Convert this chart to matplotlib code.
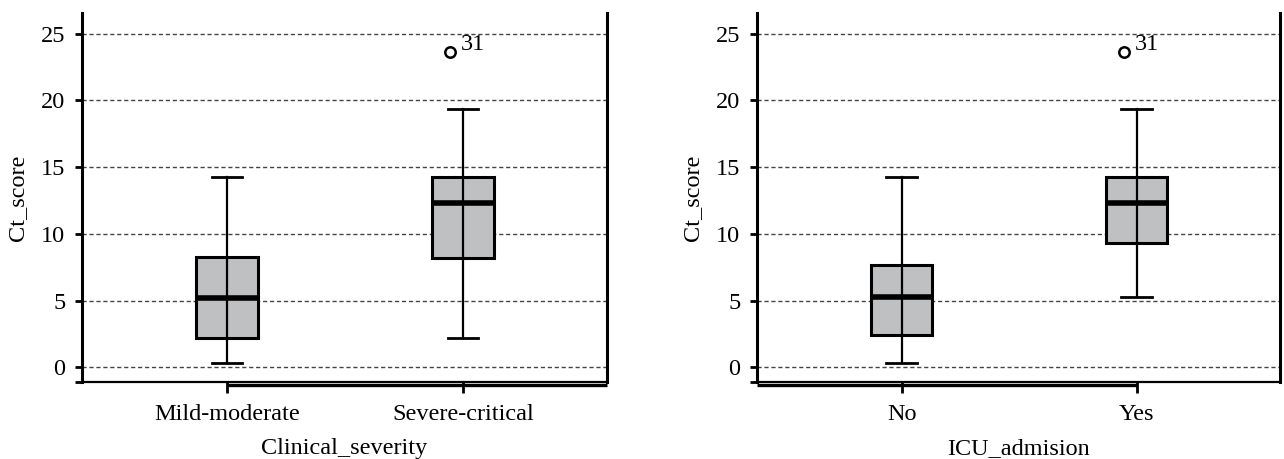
import matplotlib
matplotlib.use("Agg")
import matplotlib.pyplot as plt
import matplotlib.transforms as mtransforms

plt.rcParams["font.family"] = ["Liberation Serif", "DejaVu Serif"]

# data
severity_labels = ["Mild-moderate", "Severe-critical"]
severity_whislo = [0.3, 2.2]
severity_q1 = [2.2, 8.2]
severity_med = [5.2, 12.3]
severity_q3 = [8.25, 14.25]
severity_whishi = [14.25, 19.35]
severity_fliers = [[], [23.6]]
severity_flier_ids = [[], ["31"]]

icu_labels = ["No", "Yes"]
icu_whislo = [0.3, 5.25]
icu_q1 = [2.4, 9.35]
icu_med = [5.25, 12.3]
icu_q3 = [7.65, 14.25]
icu_whishi = [14.25, 19.35]
icu_fliers = [[], [23.6]]
icu_flier_ids = [[], ["31"]]

y_ticks = [0, 5, 10, 15, 20, 25]
y_label = "Ct_score"

FS = 17.5
BOX_COLOR = "#bfc0c2"


def draw_panel(ax, fig, labels, whislo, q1, med, q3, whishi, fliers, flier_ids,
               xlabel, thick_from_first):
    positions = list(range(len(labels)))
    stats = []
    for i in positions:
        stats.append(dict(med=med[i], q1=q1[i], q3=q3[i], whislo=whislo[i],
                          whishi=whishi[i], fliers=fliers[i], label=labels[i]))

    parts = ax.bxp(
        stats,
        positions=positions,
        widths=0.26,
        patch_artist=True,
        showfliers=True,
        capwidths=0.13,
        boxprops=dict(facecolor=BOX_COLOR, edgecolor="black", linewidth=2.2),
        medianprops=dict(color="black", linewidth=4.0),
        whiskerprops=dict(color="black", linewidth=1.6),
        capprops=dict(color="black", linewidth=2.0),
        flierprops=dict(marker="o", markerfacecolor="white",
                        markeredgecolor="black", markersize=7.5,
                        markeredgewidth=1.8),
    )

    # whisker line runs through the box
    ax.vlines(positions, q1, q3, colors="black", linewidth=1.6, zorder=3)

    # outliers sit a little left of the box centre, with their case id
    shift = mtransforms.ScaledTranslation(-13 / 100, 0, fig.dpi_scale_trans)
    for fl in parts["fliers"]:
        fl.set_transform(ax.transData + shift)
    for i in positions:
        for val, cid in zip(fliers[i], flier_ids[i]):
            ax.annotate(cid, xy=(i, val), xycoords=ax.transData + shift,
                        xytext=(8, 2), textcoords="offset points",
                        ha="left", va="baseline", fontsize=FS)

    ax.set_xlim(-0.615, len(labels) - 1 + 0.61)
    ax.set_ylim(-1.09, 26.55)
    ax.set_yticks(y_ticks)
    ax.set_yticks([-1.09], minor=True)
    ax.set_xticks(positions)
    ax.set_xticklabels(labels, fontsize=FS)
    ax.tick_params(axis="y", which="both", length=5, width=2, pad=7,
                   labelsize=FS)
    ax.tick_params(axis="x", length=8, width=2, pad=8, labelsize=FS)
    ax.yaxis.grid(True, linestyle=(0, (3, 2)), color="#444444", linewidth=1)
    ax.set_axisbelow(True)

    ax.spines["top"].set_visible(False)
    for side in ["left", "right"]:
        ax.spines[side].set_linewidth(2.2)
    ax.spines["bottom"].set_linewidth(1.6)

    # heavier base line (SPSS style) under part of the axis
    trans = ax.get_xaxis_transform() + mtransforms.ScaledTranslation(
        0, -2.5 / 100, fig.dpi_scale_trans)
    xmin, xmax = ax.get_xlim()
    if thick_from_first:
        xs = [positions[0], xmax]
    else:
        xs = [xmin, positions[-1]]
    ax.plot(xs, [0, 0], color="black", linewidth=2.4, transform=trans,
            clip_on=False, solid_capstyle="butt")

    ax.set_ylabel(y_label, fontsize=FS, labelpad=9)
    ax.set_xlabel(xlabel, fontsize=FS, labelpad=9)


fig = plt.figure(figsize=(12.84, 4.59), dpi=100)
ax1 = fig.add_axes([82 / 1284, 1 - 382 / 459, 525 / 1284, 369 / 459])
ax2 = fig.add_axes([757 / 1284, 1 - 382 / 459, 523 / 1284, 369 / 459])

draw_panel(ax1, fig, severity_labels, severity_whislo, severity_q1,
           severity_med, severity_q3, severity_whishi, severity_fliers,
           severity_flier_ids, "Clinical_severity", True)
draw_panel(ax2, fig, icu_labels, icu_whislo, icu_q1, icu_med, icu_q3,
           icu_whishi, icu_fliers, icu_flier_ids, "ICU_admision", False)

fig.savefig("out.png", dpi=100)
plt.close(fig)
